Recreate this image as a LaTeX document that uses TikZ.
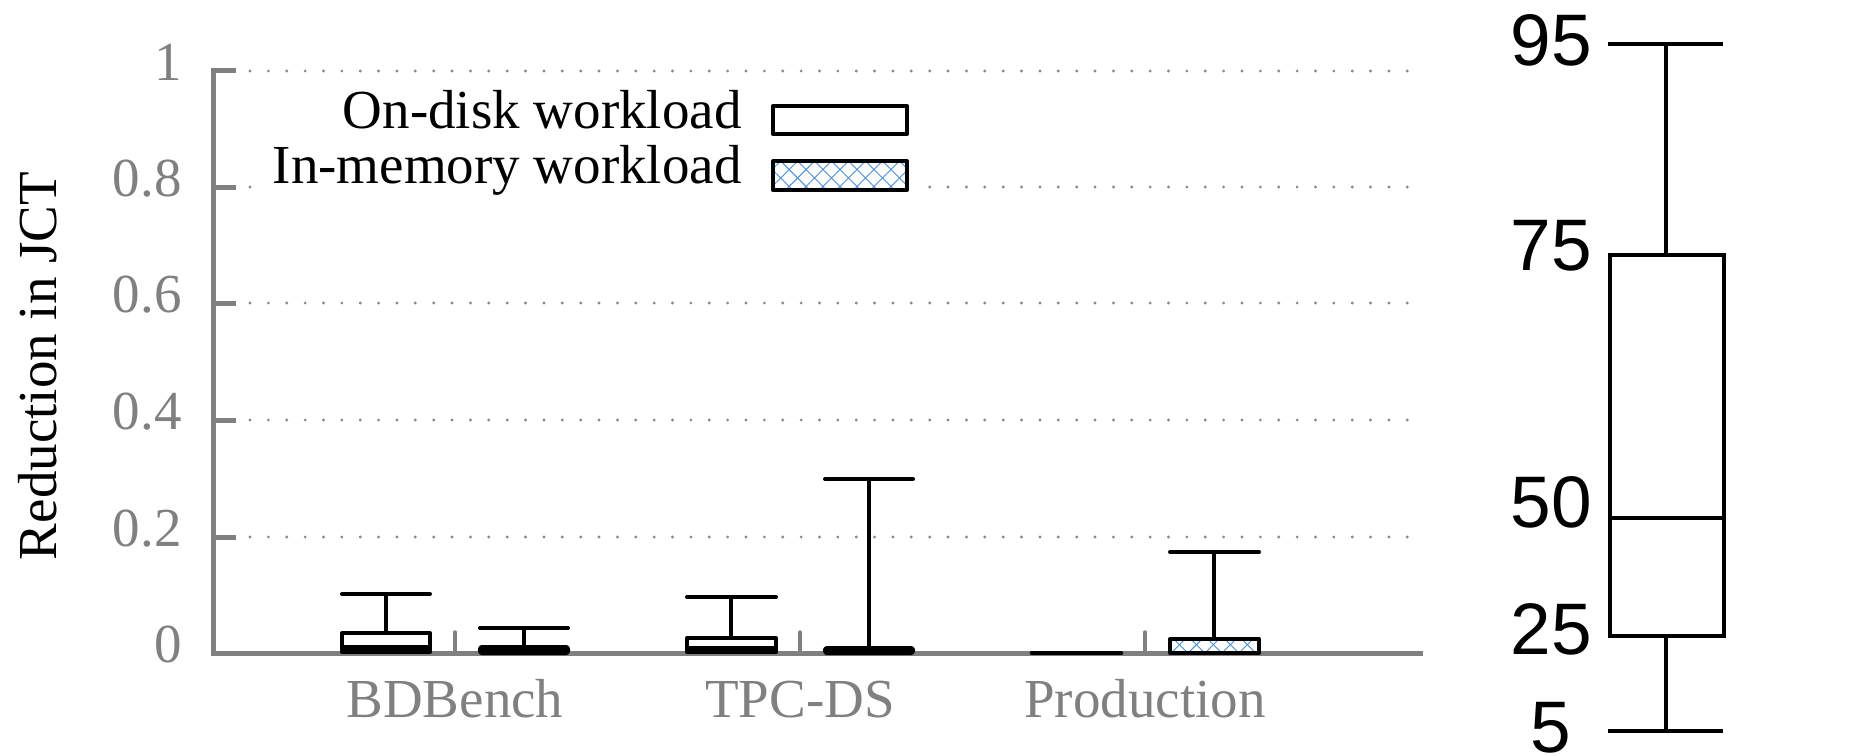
\documentclass[tikz,border=0pt]{standalone}
\usepackage{fontspec}
\setmainfont{Liberation Serif}
\newfontfamily\sansf{Liberation Sans}
\usetikzlibrary{patterns.meta}
\definecolor{axisgray}{HTML}{808080}
\definecolor{gridgray}{HTML}{888888}
\definecolor{hatchblue}{HTML}{4A8FD4}
\newcommand\hatchbox[2]{%
  \fill[white] #1 rectangle #2;
  \fill[pattern={Lines[angle=45,distance=6pt,line width=0.45pt]},pattern color=hatchblue] #1 rectangle #2;
  \fill[pattern={Lines[angle=-45,distance=6pt,line width=0.45pt]},pattern color=hatchblue] #1 rectangle #2;}
\begin{document}
\begin{tikzpicture}[x=0.5pt,y=-0.5pt,
  serif/.style={font=\fontsize{27.5}{30}\selectfont, inner sep=0pt},
  ticklab/.style={serif, text=axisgray, anchor=base east},
  catlab/.style={serif, text=axisgray, anchor=base},
  leglab/.style={serif, anchor=base east},
  sanslab/.style={font=\sansf\fontsize{36.5}{40}\selectfont, inner sep=0pt, anchor=center},
  axisline/.style={draw=axisgray, line width=2.5pt},
  sepline/.style={draw=axisgray, line width=1.7pt, line cap=round},
  gridline/.style={draw=gridgray, line width=1.6pt, line cap=round, dash pattern=on 0pt off 9.185pt},
  boxline/.style={draw=black, line width=2pt, line join=round},
  whisk/.style={draw=black, line width=1.75pt},
  capline/.style={draw=black, line width=2pt, line cap=round},
  keyline/.style={draw=black, line width=2pt},
]
\useasboundingbox (0,0) rectangle (1850,755);

% grid lines
\foreach \yy in {71,187,303,420,537} \draw[gridline] (250,\yy) -- (1408,\yy);

% legend background and content
\fill[white] (252,88) rectangle (924,202);
\node[leglab] (legA) at (742,128) {On-disk workload};
\node[leglab] (legB) at (742,183) {In-memory workload};
\draw[boxline, fill=white] (773,106) rectangle (907,134);
\hatchbox{(773,161)}{(907,190)}
\draw[boxline] (773,161) rectangle (907,190);

% axes
\draw[axisline] (213,68) -- (213,653) -- (1423,653);
\foreach \yy in {70,187,303,420,537,653} \draw[axisline] (213,\yy) -- (236,\yy);
\node[ticklab] (t1) at (182,80) {1};
\node[ticklab] (t08) at (182,196) {0.8};
\node[ticklab] (t06) at (182,312) {0.6};
\node[ticklab] (t04) at (182,429) {0.4};
\node[ticklab] (t02) at (182,546) {0.2};
\node[ticklab] (t0) at (182,662) {0};
\node[serif, rotate=90, anchor=center] (ylab) at (38,366) {Reduction in JCT};

% category separators
\foreach \xx in {455,800,1145} \draw[sepline] (\xx,632) -- (\xx,653);
\node[catlab] (c1) at (455,717) {BDBench};
\node[catlab] (c2) at (800,717) {TPC-DS};
\node[catlab] (c3) at (1145,717) {Production};

% BDBench on-disk
\draw[whisk] (386,633) -- (386,594);
\draw[capline] (342,594) -- (430,594);
\draw[boxline, fill=white] (342,633) rectangle (430,652);
\fill[black] (342,645) rectangle (430,654);
% BDBench in-memory
\draw[whisk] (524,647) -- (524,628);
\draw[capline] (480,628) -- (568,628);
\draw[boxline, fill=black, rounded corners=1pt] (480,647) rectangle (568,653);

% TPC-DS on-disk
\draw[whisk] (731,638) -- (731,597);
\draw[capline] (687,597) -- (776,597);
\draw[boxline, fill=white] (687,638) rectangle (776,652);
\fill[black] (687,646) rectangle (776,654);
% TPC-DS in-memory
\draw[whisk] (869,648) -- (869,479);
\draw[capline] (825,479) -- (913,479);
\draw[boxline, fill=black, rounded corners=1pt] (825,648) rectangle (913,653);

% Production on-disk
\draw[capline, line width=2.3pt] (1032,653) -- (1121,653);
% Production in-memory
\draw[whisk] (1214,639) -- (1214,552);
\draw[capline] (1170,552) -- (1259,552);
\hatchbox{(1170,639)}{(1259,653)}
\draw[boxline] (1170,639) rectangle (1259,653);

% key box plot
\draw[keyline] (1666,44) -- (1666,255);
\draw[keyline] (1666,636) -- (1666,731);
\draw[keyline] (1608,44) -- (1723,44);
\draw[keyline] (1608,731) -- (1723,731);
\draw[keyline] (1610,255) rectangle (1724,636);
\draw[keyline] (1610,518) -- (1724,518);
\node[sanslab] (k95) at (1551,40) {95};
\node[sanslab] (k75) at (1551,246) {75};
\node[sanslab] (k50) at (1551,502) {50};
\node[sanslab] (k25) at (1551,629) {25};
\node[sanslab] (k5) at (1551,728) {5};
\end{tikzpicture}
\end{document}
